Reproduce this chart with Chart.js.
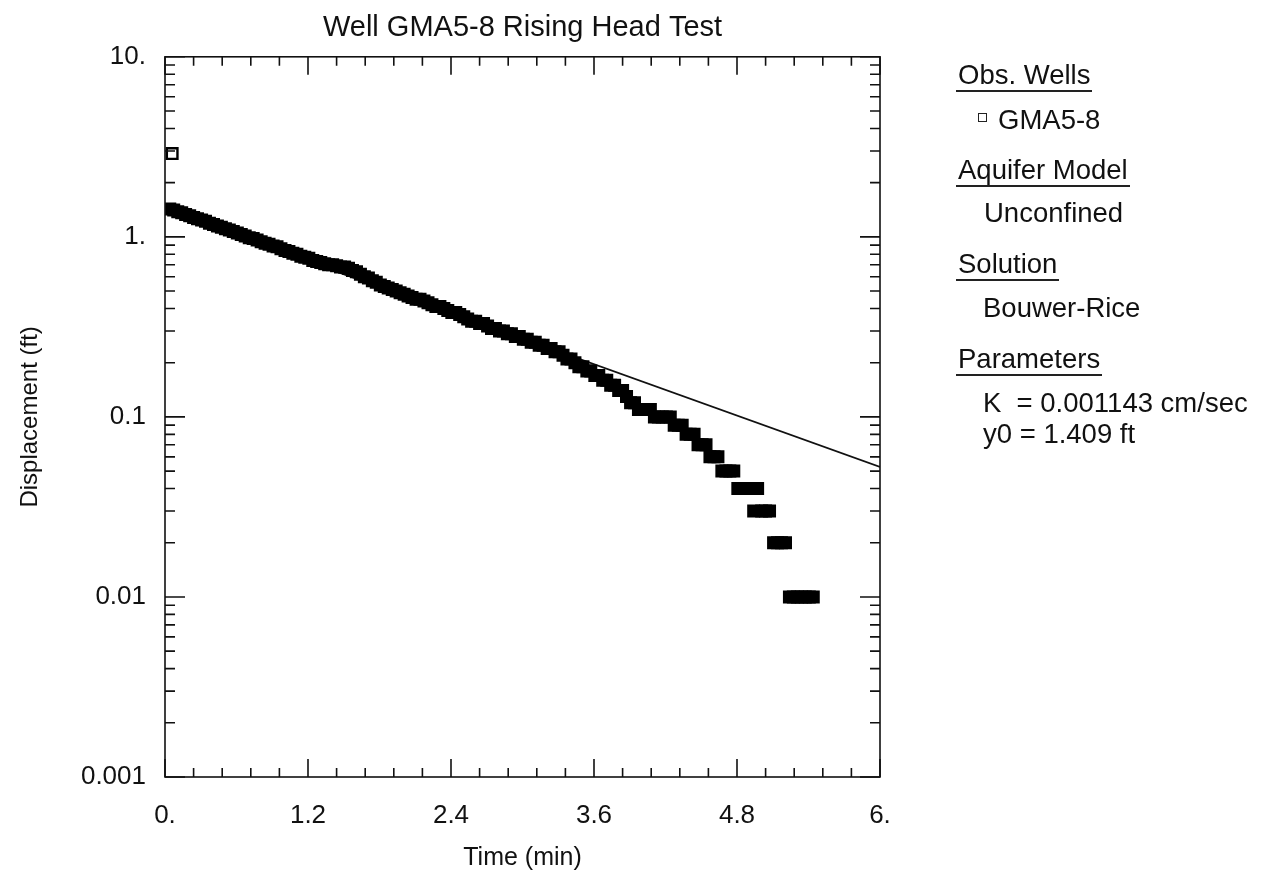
<!DOCTYPE html>
<html>
<head>
<meta charset="utf-8">
<script src="https://cdn.jsdelivr.net/npm/chart.js@4.4.0/dist/chart.umd.min.js"></script>
<style>
html,body{margin:0;padding:0;background:#fff;}
#wrap{position:relative;width:1266px;height:879px;overflow:hidden;background:#fff;}
#c{position:absolute;left:0;top:0;}
.lg{position:absolute;font-family:'Liberation Sans',Arial,sans-serif;font-size:27.5px;line-height:30px;color:#111;white-space:pre;}
.hd{border-bottom:2px solid #222;padding:0 2px;}
.sym{position:absolute;width:7px;height:7px;border:1.5px solid #222;background:#fff;}
</style>
</head>
<body>
<div id="wrap">
<canvas id="c" width="1266" height="879" style="width:1266px;height:879px"></canvas>
<div class="lg hd" style="left:956px;top:60px">Obs. Wells</div>
<div class="sym" style="left:978px;top:113px"></div>
<div class="lg" style="left:998px;top:105px">GMA5-8</div>
<div class="lg hd" style="left:956px;top:155px">Aquifer Model</div>
<div class="lg" style="left:984px;top:198px">Unconfined</div>
<div class="lg hd" style="left:956px;top:249px">Solution</div>
<div class="lg" style="left:983px;top:293px">Bouwer-Rice</div>
<div class="lg hd" style="left:956px;top:344px">Parameters</div>
<div class="lg" style="left:983px;top:388px">K  = 0.001143 cm/sec</div>
<div class="lg" style="left:983px;top:419px">y0 = 1.409 ft</div>
</div>
<script>
// ---- data ----
const chartTitle = 'Well GMA5-8 Rising Head Test';
const xTitle = 'Time (min)';
const yTitle = 'Displacement (ft)';
const xTickValues = [0, 1.2, 2.4, 3.6, 4.8, 6];
const xTickLabels = ['0.', '1.2', '2.4', '3.6', '4.8', '6.'];
const yTickValues = [0.001, 0.01, 0.1, 1, 10];
const yTickLabels = ['0.001', '0.01', '0.1', '1.', '10.'];

// observed well GMA5-8 (time in min, displacement in ft)
const obsTime = [0.06,
  0.04,0.073,
  0.107,0.14,0.173, 0.207,0.24,0.273, 0.307,0.34,0.373, 0.407,0.44,0.473, 0.507,0.54,0.573,
  0.607,0.64,0.673, 0.707,0.74,0.773, 0.807,0.84,0.873, 0.907,0.94,0.973, 1.007,1.04,1.073,
  1.107,1.14,1.173, 1.207,1.24,1.273, 1.307,1.34,1.373, 1.407,1.44,1.473, 1.507,1.54,1.573,
  1.607,1.64,1.673, 1.707,1.74,1.773, 1.807,1.84,1.873, 1.907,1.94,1.973, 2.007,2.04,2.073,
  2.107,2.14,2.173, 2.207,2.24,2.273, 2.307,2.34,2.373, 2.407,2.44,2.473, 2.507,2.54,2.573,
  2.607,2.64,2.673, 2.707,2.74,2.773, 2.807,2.84,2.873, 2.907,2.94,2.973, 3.007,3.04,3.073,
  3.107,3.14,3.173, 3.207,3.24,3.273, 3.307,3.34,3.373, 3.407,3.44,3.473, 3.507,3.54,3.573,
  3.607,3.64,3.673, 3.707,3.74,3.773, 3.807,3.84,3.873, 3.907,3.94,3.973, 4.007,4.04,4.073,
  4.107,4.14,4.173, 4.207,4.24,4.273, 4.307,4.34,4.373, 4.407,4.44,4.473, 4.507,4.54,4.573,
  4.607,4.64,4.673, 4.707,4.74,4.773, 4.807,4.84,4.873, 4.907,4.94,4.973, 5.007,5.04,5.073,
  5.107,5.14,5.173, 5.207,5.24,5.273, 5.307,5.34,5.373, 5.407,5.44];
const obsDisp = [2.90,
  1.43,1.41,
  1.38,1.36,1.33, 1.31,1.28,1.26, 1.24,1.22,1.19, 1.17,1.15,1.13, 1.11,1.09,1.07,
  1.05,1.03,1.01, 0.99,0.98,0.96, 0.94,0.92,0.91, 0.89,0.88,0.86, 0.84,0.83,0.81,
  0.80,0.78,0.77, 0.76,0.74,0.73, 0.72,0.71,0.70, 0.70,0.69,0.68, 0.68,0.67,0.65,
  0.64,0.62,0.60, 0.59,0.57,0.56, 0.54,0.53,0.52, 0.51,0.50,0.49, 0.48,0.47,0.46,
  0.45,0.45,0.44, 0.43,0.42,0.41, 0.41,0.40,0.39, 0.38,0.38,0.37, 0.36,0.35,0.34,
  0.34,0.33,0.33, 0.32,0.31,0.31, 0.30,0.30,0.29, 0.29,0.28,0.28, 0.27,0.27,0.26,
  0.26,0.25,0.25, 0.24,0.24,0.23, 0.23,0.22,0.21, 0.21,0.20,0.19, 0.19,0.18,0.18,
  0.17,0.17,0.16, 0.16,0.15,0.15, 0.14,0.14,0.13, 0.12,0.12,0.11, 0.11,0.11,0.11,
  0.10,0.10,0.10, 0.10,0.10,0.09, 0.09,0.09,0.08, 0.08,0.08,0.07, 0.07,0.07,0.06,
  0.06,0.06,0.05, 0.05,0.05,0.05, 0.04,0.04,0.04, 0.04,0.03,0.04, 0.03,0.03,0.03,
  0.02,0.02,0.02, 0.02,0.01,0.01, 0.01,0.01,0.01, 0.01,0.01];

// Bouwer-Rice fitted line (straight on the semi-log plot)
const fitTime = [0, 6];
const fitDisp = [1.409, 0.0527];

// ---- chart ----
Chart.defaults.font.family = "'Liberation Sans', Arial, Helvetica, sans-serif";
Chart.defaults.color = '#111';

const boxTicks = {
  id: 'boxTicks',
  afterDatasetsDraw(chart) {
    const {ctx, chartArea: a, scales: {x, y}} = chart;
    ctx.save();
    ctx.strokeStyle = '#111';
    ctx.lineWidth = 1.6;
    ctx.strokeRect(a.left, a.top, a.right - a.left, a.bottom - a.top);
    ctx.beginPath();
    const xMin = x.min, xMax = x.max, xStep = (xTickValues[1] - xTickValues[0]) / 5;
    for (let k = 0; k * xStep <= xMax - xMin + 1e-9; k++) {
      const px = x.getPixelForValue(xMin + k * xStep);
      const len = (k % 5 === 0) ? 18 : 9;
      ctx.moveTo(px, a.bottom); ctx.lineTo(px, a.bottom - len);
      ctx.moveTo(px, a.top); ctx.lineTo(px, a.top + len);
    }
    for (let d = 0; d < yTickValues.length; d++) {
      const dec = yTickValues[d];
      for (let m = 1; m <= 9; m++) {
        if (d === yTickValues.length - 1 && m > 1) break;
        const py = y.getPixelForValue(dec * m);
        const len = (m === 1) ? 20 : 10;
        ctx.moveTo(a.left, py); ctx.lineTo(a.left + len, py);
        ctx.moveTo(a.right, py); ctx.lineTo(a.right - len, py);
      }
    }
    ctx.stroke();
    ctx.restore();
  }
};

new Chart(document.getElementById('c'), {
  type: 'scatter',
  data: {
    datasets: [
      {
        label: 'GMA5-8',
        data: obsTime.map((t, i) => ({x: t, y: obsDisp[i]})),
        showLine: false,
        pointStyle: 'rect',
        pointRadius: 7.5,
        borderWidth: 2.4,
        borderColor: '#000',
        backgroundColor: c => (c.dataIndex === 0 ? '#fff' : '#000')
      },
      {
        label: 'Bouwer-Rice',
        data: fitTime.map((t, i) => ({x: t, y: fitDisp[i]})),
        showLine: true,
        pointRadius: 0,
        borderColor: '#111',
        borderWidth: 1.7,
        fill: false
      }
    ]
  },
  options: {
    responsive: false,
    animation: false,
    layout: {padding: {left: 0, right: 386, top: 0, bottom: 0}},
    plugins: {
      legend: {display: false},
      tooltip: {enabled: false},
      title: {
        display: true, text: chartTitle, fullSize: false,
        font: {size: 29, weight: 'normal'}, color: '#111',
        padding: {top: 11, bottom: 11}
      }
    },
    scales: {
      x: {
        type: 'linear', min: 0, max: 6,
        grid: {display: false, drawTicks: false},
        border: {display: false},
        afterBuildTicks: s => { s.ticks = xTickValues.map(v => ({value: v})); },
        afterFit: s => { s.height = 102; },
        ticks: {
          padding: 23, font: {size: 26}, color: '#111', maxRotation: 0,
          callback: (v, i) => xTickLabels[i]
        },
        title: {display: true, text: xTitle, font: {size: 25}, color: '#111', padding: {top: 0, bottom: 6}}
      },
      y: {
        type: 'logarithmic', min: 0.001, max: 10,
        grid: {display: false, drawTicks: false},
        border: {display: false},
        afterBuildTicks: s => { s.ticks = yTickValues.map(v => ({value: v})); },
        afterFit: s => { s.width = 165; },
        ticks: {
          padding: 19, font: {size: 26}, color: '#111',
          callback: (v, i) => yTickLabels[i]
        },
        title: {display: true, text: yTitle, font: {size: 24}, color: '#111', padding: {top: 16, bottom: 0}}
      }
    }
  },
  plugins: [boxTicks]
});
</script>
</body>
</html>
